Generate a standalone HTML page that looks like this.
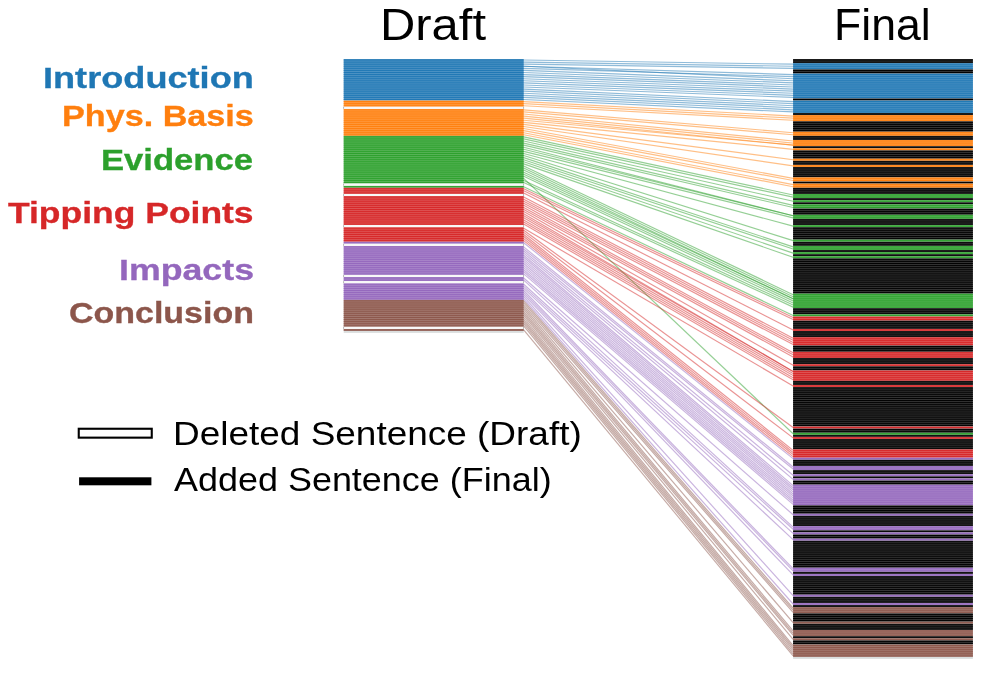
<!DOCTYPE html><html><head><meta charset="utf-8"><style>
html,body{margin:0;padding:0;background:#fff}
#c{position:relative;width:996px;height:686px;overflow:hidden;background:#fff;font-family:"Liberation Sans",sans-serif}
.t{position:absolute;white-space:nowrap;line-height:1;transform-origin:0 0;will-change:transform}
</style></head><body><div id="c">
<svg width="996" height="686" viewBox="0 0 996 686" style="position:absolute;left:0;top:0">
<g fill="none" stroke-width="1.15" stroke-opacity="0.5">
<path d="M523.7 60.04L793.1 64.19" stroke="#1f77b4"/>
<path d="M523.7 62.11L793.1 66.27" stroke="#1f77b4"/>
<path d="M523.7 64.19L793.1 68.34" stroke="#1f77b4"/>
<path d="M523.7 66.27L793.1 74.57" stroke="#1f77b4"/>
<path d="M523.7 68.34L793.1 76.65" stroke="#1f77b4"/>
<path d="M523.7 70.42L793.1 80.80" stroke="#1f77b4"/>
<path d="M523.7 72.50L793.1 82.88" stroke="#1f77b4"/>
<path d="M523.7 74.57L793.1 84.95" stroke="#1f77b4"/>
<path d="M523.7 76.65L793.1 87.03" stroke="#1f77b4"/>
<path d="M523.7 78.72L793.1 89.10" stroke="#1f77b4"/>
<path d="M523.7 80.80L793.1 91.18" stroke="#1f77b4"/>
<path d="M523.7 82.88L793.1 93.26" stroke="#1f77b4"/>
<path d="M523.7 84.95L793.1 95.33" stroke="#1f77b4"/>
<path d="M523.7 87.03L793.1 97.41" stroke="#1f77b4"/>
<path d="M523.7 89.10L793.1 101.56" stroke="#1f77b4"/>
<path d="M523.7 91.18L793.1 103.64" stroke="#1f77b4"/>
<path d="M523.7 93.26L793.1 105.71" stroke="#1f77b4"/>
<path d="M523.7 95.33L793.1 107.79" stroke="#1f77b4"/>
<path d="M523.7 97.41L793.1 109.87" stroke="#1f77b4"/>
<path d="M523.7 99.49L793.1 111.94" stroke="#1f77b4"/>
<path d="M523.7 66.27L793.1 78.72" stroke="#1f77b4"/>
<path d="M523.7 101.56L793.1 116.10" stroke="#ff7f0e"/>
<path d="M523.7 103.64L793.1 118.17" stroke="#ff7f0e"/>
<path d="M523.7 105.71L793.1 120.25" stroke="#ff7f0e"/>
<path d="M523.7 109.87L793.1 132.71" stroke="#ff7f0e"/>
<path d="M523.7 111.94L793.1 134.78" stroke="#ff7f0e"/>
<path d="M523.7 114.02L793.1 141.01" stroke="#ff7f0e"/>
<path d="M523.7 116.10L793.1 143.09" stroke="#ff7f0e"/>
<path d="M523.7 118.17L793.1 145.16" stroke="#ff7f0e"/>
<path d="M523.7 120.25L793.1 145.16" stroke="#ff7f0e"/>
<path d="M523.7 122.32L793.1 149.31" stroke="#ff7f0e"/>
<path d="M523.7 124.40L793.1 159.70" stroke="#ff7f0e"/>
<path d="M523.7 126.48L793.1 165.92" stroke="#ff7f0e"/>
<path d="M523.7 128.55L793.1 178.38" stroke="#ff7f0e"/>
<path d="M523.7 130.63L793.1 180.46" stroke="#ff7f0e"/>
<path d="M523.7 132.71L793.1 184.61" stroke="#ff7f0e"/>
<path d="M523.7 134.78L793.1 186.69" stroke="#ff7f0e"/>
<path d="M523.7 178.38L793.1 433.75" stroke="#2ca02c"/>
<path d="M523.7 136.86L793.1 194.99" stroke="#2ca02c"/>
<path d="M523.7 138.93L793.1 197.07" stroke="#2ca02c"/>
<path d="M523.7 141.01L793.1 201.22" stroke="#2ca02c"/>
<path d="M523.7 143.09L793.1 205.37" stroke="#2ca02c"/>
<path d="M523.7 145.16L793.1 207.45" stroke="#2ca02c"/>
<path d="M523.7 147.24L793.1 215.75" stroke="#2ca02c"/>
<path d="M523.7 149.31L793.1 215.75" stroke="#2ca02c"/>
<path d="M523.7 151.39L793.1 217.83" stroke="#2ca02c"/>
<path d="M523.7 153.47L793.1 226.13" stroke="#2ca02c"/>
<path d="M523.7 155.54L793.1 240.67" stroke="#2ca02c"/>
<path d="M523.7 157.62L793.1 246.90" stroke="#2ca02c"/>
<path d="M523.7 159.70L793.1 248.97" stroke="#2ca02c"/>
<path d="M523.7 161.77L793.1 253.12" stroke="#2ca02c"/>
<path d="M523.7 163.85L793.1 257.28" stroke="#2ca02c"/>
<path d="M523.7 165.92L793.1 294.65" stroke="#2ca02c"/>
<path d="M523.7 168.00L793.1 296.72" stroke="#2ca02c"/>
<path d="M523.7 170.08L793.1 298.80" stroke="#2ca02c"/>
<path d="M523.7 172.15L793.1 298.80" stroke="#2ca02c"/>
<path d="M523.7 174.23L793.1 300.88" stroke="#2ca02c"/>
<path d="M523.7 176.31L793.1 302.95" stroke="#2ca02c"/>
<path d="M523.7 180.46L793.1 305.03" stroke="#2ca02c"/>
<path d="M523.7 182.53L793.1 307.11" stroke="#2ca02c"/>
<path d="M523.7 186.69L793.1 315.41" stroke="#2ca02c"/>
<path d="M523.7 188.76L793.1 317.49" stroke="#d62728"/>
<path d="M523.7 190.84L793.1 319.56" stroke="#d62728"/>
<path d="M523.7 192.91L793.1 329.94" stroke="#d62728"/>
<path d="M523.7 197.07L793.1 338.25" stroke="#d62728"/>
<path d="M523.7 199.14L793.1 340.33" stroke="#d62728"/>
<path d="M523.7 201.22L793.1 342.40" stroke="#d62728"/>
<path d="M523.7 203.30L793.1 344.48" stroke="#d62728"/>
<path d="M523.7 205.37L793.1 352.78" stroke="#d62728"/>
<path d="M523.7 207.45L793.1 354.86" stroke="#d62728"/>
<path d="M523.7 209.52L793.1 356.93" stroke="#d62728"/>
<path d="M523.7 211.60L793.1 365.24" stroke="#d62728"/>
<path d="M523.7 213.68L793.1 371.47" stroke="#d62728"/>
<path d="M523.7 215.75L793.1 371.47" stroke="#d62728"/>
<path d="M523.7 217.83L793.1 373.54" stroke="#d62728"/>
<path d="M523.7 219.91L793.1 375.62" stroke="#d62728"/>
<path d="M523.7 221.98L793.1 377.70" stroke="#d62728"/>
<path d="M523.7 224.06L793.1 379.77" stroke="#d62728"/>
<path d="M523.7 228.21L793.1 386.00" stroke="#d62728"/>
<path d="M523.7 230.29L793.1 427.53" stroke="#d62728"/>
<path d="M523.7 232.36L793.1 437.91" stroke="#d62728"/>
<path d="M523.7 234.44L793.1 450.36" stroke="#d62728"/>
<path d="M523.7 236.52L793.1 452.44" stroke="#d62728"/>
<path d="M523.7 238.59L793.1 454.52" stroke="#d62728"/>
<path d="M523.7 240.67L793.1 456.59" stroke="#d62728"/>
<path d="M523.7 242.74L793.1 458.67" stroke="#9467bd"/>
<path d="M523.7 246.90L793.1 466.97" stroke="#9467bd"/>
<path d="M523.7 248.97L793.1 469.05" stroke="#9467bd"/>
<path d="M523.7 251.05L793.1 475.28" stroke="#9467bd"/>
<path d="M523.7 253.12L793.1 479.43" stroke="#9467bd"/>
<path d="M523.7 255.20L793.1 485.66" stroke="#9467bd"/>
<path d="M523.7 257.28L793.1 487.74" stroke="#9467bd"/>
<path d="M523.7 259.35L793.1 489.81" stroke="#9467bd"/>
<path d="M523.7 261.43L793.1 491.89" stroke="#9467bd"/>
<path d="M523.7 263.51L793.1 493.96" stroke="#9467bd"/>
<path d="M523.7 265.58L793.1 496.04" stroke="#9467bd"/>
<path d="M523.7 267.66L793.1 498.12" stroke="#9467bd"/>
<path d="M523.7 269.73L793.1 500.19" stroke="#9467bd"/>
<path d="M523.7 271.81L793.1 502.27" stroke="#9467bd"/>
<path d="M523.7 273.89L793.1 504.34" stroke="#9467bd"/>
<path d="M523.7 278.04L793.1 514.73" stroke="#9467bd"/>
<path d="M523.7 280.12L793.1 527.18" stroke="#9467bd"/>
<path d="M523.7 284.27L793.1 529.26" stroke="#9467bd"/>
<path d="M523.7 286.34L793.1 533.41" stroke="#9467bd"/>
<path d="M523.7 288.42L793.1 539.64" stroke="#9467bd"/>
<path d="M523.7 290.50L793.1 568.71" stroke="#9467bd"/>
<path d="M523.7 292.57L793.1 570.78" stroke="#9467bd"/>
<path d="M523.7 294.65L793.1 574.94" stroke="#9467bd"/>
<path d="M523.7 296.72L793.1 595.70" stroke="#9467bd"/>
<path d="M523.7 298.80L793.1 604.00" stroke="#9467bd"/>
<path d="M523.7 300.88L793.1 608.15" stroke="#8c564b"/>
<path d="M523.7 302.95L793.1 610.23" stroke="#8c564b"/>
<path d="M523.7 305.03L793.1 612.31" stroke="#8c564b"/>
<path d="M523.7 307.11L793.1 622.69" stroke="#8c564b"/>
<path d="M523.7 309.18L793.1 630.99" stroke="#8c564b"/>
<path d="M523.7 311.26L793.1 633.07" stroke="#8c564b"/>
<path d="M523.7 313.33L793.1 635.15" stroke="#8c564b"/>
<path d="M523.7 315.41L793.1 639.30" stroke="#8c564b"/>
<path d="M523.7 317.49L793.1 645.53" stroke="#8c564b"/>
<path d="M523.7 319.56L793.1 647.60" stroke="#8c564b"/>
<path d="M523.7 321.64L793.1 649.68" stroke="#8c564b"/>
<path d="M523.7 323.72L793.1 651.76" stroke="#8c564b"/>
<path d="M523.7 325.79L793.1 653.83" stroke="#8c564b"/>
<path d="M523.7 329.94L793.1 655.91" stroke="#8c564b"/>
</g>
<rect x="343.7" y="59.00" width="180.0" height="41.52" fill="#1f77b4" fill-opacity="0.8"/>
<rect x="343.7" y="100.52" width="180.0" height="6.23" fill="#ff7f0e" fill-opacity="0.8"/>
<rect x="343.7" y="108.83" width="180.0" height="26.99" fill="#ff7f0e" fill-opacity="0.8"/>
<rect x="343.7" y="135.82" width="180.0" height="47.75" fill="#2ca02c" fill-opacity="0.8"/>
<rect x="343.7" y="185.65" width="180.0" height="2.08" fill="#2ca02c" fill-opacity="0.8"/>
<rect x="343.7" y="187.72" width="180.0" height="6.23" fill="#d62728" fill-opacity="0.8"/>
<rect x="343.7" y="196.03" width="180.0" height="29.07" fill="#d62728" fill-opacity="0.8"/>
<rect x="343.7" y="227.17" width="180.0" height="14.53" fill="#d62728" fill-opacity="0.8"/>
<rect x="343.7" y="241.71" width="180.0" height="2.08" fill="#9467bd" fill-opacity="0.8"/>
<rect x="343.7" y="245.86" width="180.0" height="29.07" fill="#9467bd" fill-opacity="0.8"/>
<rect x="343.7" y="277.00" width="180.0" height="4.15" fill="#9467bd" fill-opacity="0.8"/>
<rect x="343.7" y="283.23" width="180.0" height="16.61" fill="#9467bd" fill-opacity="0.8"/>
<rect x="343.7" y="299.84" width="180.0" height="26.99" fill="#8c564b" fill-opacity="0.8"/>
<rect x="343.7" y="328.91" width="180.0" height="2.08" fill="#8c564b" fill-opacity="0.8"/>
<rect x="343.7" y="59.52" width="180.0" height="1.038" fill="#1f77b4" fill-opacity="0.95"/>
<rect x="343.7" y="61.60" width="180.0" height="1.038" fill="#1f77b4" fill-opacity="0.95"/>
<rect x="343.7" y="63.67" width="180.0" height="1.038" fill="#1f77b4" fill-opacity="0.95"/>
<rect x="343.7" y="65.75" width="180.0" height="1.038" fill="#1f77b4" fill-opacity="0.95"/>
<rect x="343.7" y="67.82" width="180.0" height="1.038" fill="#1f77b4" fill-opacity="0.95"/>
<rect x="343.7" y="69.90" width="180.0" height="1.038" fill="#1f77b4" fill-opacity="0.95"/>
<rect x="343.7" y="71.98" width="180.0" height="1.038" fill="#1f77b4" fill-opacity="0.95"/>
<rect x="343.7" y="74.05" width="180.0" height="1.038" fill="#1f77b4" fill-opacity="0.95"/>
<rect x="343.7" y="76.13" width="180.0" height="1.038" fill="#1f77b4" fill-opacity="0.95"/>
<rect x="343.7" y="78.20" width="180.0" height="1.038" fill="#1f77b4" fill-opacity="0.95"/>
<rect x="343.7" y="80.28" width="180.0" height="1.038" fill="#1f77b4" fill-opacity="0.95"/>
<rect x="343.7" y="82.36" width="180.0" height="1.038" fill="#1f77b4" fill-opacity="0.95"/>
<rect x="343.7" y="84.43" width="180.0" height="1.038" fill="#1f77b4" fill-opacity="0.95"/>
<rect x="343.7" y="86.51" width="180.0" height="1.038" fill="#1f77b4" fill-opacity="0.95"/>
<rect x="343.7" y="88.59" width="180.0" height="1.038" fill="#1f77b4" fill-opacity="0.95"/>
<rect x="343.7" y="90.66" width="180.0" height="1.038" fill="#1f77b4" fill-opacity="0.95"/>
<rect x="343.7" y="92.74" width="180.0" height="1.038" fill="#1f77b4" fill-opacity="0.95"/>
<rect x="343.7" y="94.81" width="180.0" height="1.038" fill="#1f77b4" fill-opacity="0.95"/>
<rect x="343.7" y="96.89" width="180.0" height="1.038" fill="#1f77b4" fill-opacity="0.95"/>
<rect x="343.7" y="98.97" width="180.0" height="1.038" fill="#1f77b4" fill-opacity="0.95"/>
<rect x="343.7" y="101.04" width="180.0" height="1.038" fill="#ff7f0e" fill-opacity="0.95"/>
<rect x="343.7" y="103.12" width="180.0" height="1.038" fill="#ff7f0e" fill-opacity="0.95"/>
<rect x="343.7" y="105.20" width="180.0" height="1.038" fill="#ff7f0e" fill-opacity="0.95"/>
<rect x="343.7" y="106.75" width="180.0" height="2.0762" fill="#f8f8f8"/>
<rect x="343.35" y="106.75" width="0.7" height="2.0762" fill="#999"/>
<rect x="523.35" y="106.75" width="0.7" height="2.0762" fill="#999"/>
<rect x="343.7" y="109.35" width="180.0" height="1.038" fill="#ff7f0e" fill-opacity="0.95"/>
<rect x="343.7" y="111.42" width="180.0" height="1.038" fill="#ff7f0e" fill-opacity="0.95"/>
<rect x="343.7" y="113.50" width="180.0" height="1.038" fill="#ff7f0e" fill-opacity="0.95"/>
<rect x="343.7" y="115.58" width="180.0" height="1.038" fill="#ff7f0e" fill-opacity="0.95"/>
<rect x="343.7" y="117.65" width="180.0" height="1.038" fill="#ff7f0e" fill-opacity="0.95"/>
<rect x="343.7" y="119.73" width="180.0" height="1.038" fill="#ff7f0e" fill-opacity="0.95"/>
<rect x="343.7" y="121.81" width="180.0" height="1.038" fill="#ff7f0e" fill-opacity="0.95"/>
<rect x="343.7" y="123.88" width="180.0" height="1.038" fill="#ff7f0e" fill-opacity="0.95"/>
<rect x="343.7" y="125.96" width="180.0" height="1.038" fill="#ff7f0e" fill-opacity="0.95"/>
<rect x="343.7" y="128.03" width="180.0" height="1.038" fill="#ff7f0e" fill-opacity="0.95"/>
<rect x="343.7" y="130.11" width="180.0" height="1.038" fill="#ff7f0e" fill-opacity="0.95"/>
<rect x="343.7" y="132.19" width="180.0" height="1.038" fill="#ff7f0e" fill-opacity="0.95"/>
<rect x="343.7" y="134.26" width="180.0" height="1.038" fill="#ff7f0e" fill-opacity="0.95"/>
<rect x="343.7" y="136.34" width="180.0" height="1.038" fill="#2ca02c" fill-opacity="0.95"/>
<rect x="343.7" y="138.41" width="180.0" height="1.038" fill="#2ca02c" fill-opacity="0.95"/>
<rect x="343.7" y="140.49" width="180.0" height="1.038" fill="#2ca02c" fill-opacity="0.95"/>
<rect x="343.7" y="142.57" width="180.0" height="1.038" fill="#2ca02c" fill-opacity="0.95"/>
<rect x="343.7" y="144.64" width="180.0" height="1.038" fill="#2ca02c" fill-opacity="0.95"/>
<rect x="343.7" y="146.72" width="180.0" height="1.038" fill="#2ca02c" fill-opacity="0.95"/>
<rect x="343.7" y="148.80" width="180.0" height="1.038" fill="#2ca02c" fill-opacity="0.95"/>
<rect x="343.7" y="150.87" width="180.0" height="1.038" fill="#2ca02c" fill-opacity="0.95"/>
<rect x="343.7" y="152.95" width="180.0" height="1.038" fill="#2ca02c" fill-opacity="0.95"/>
<rect x="343.7" y="155.02" width="180.0" height="1.038" fill="#2ca02c" fill-opacity="0.95"/>
<rect x="343.7" y="157.10" width="180.0" height="1.038" fill="#2ca02c" fill-opacity="0.95"/>
<rect x="343.7" y="159.18" width="180.0" height="1.038" fill="#2ca02c" fill-opacity="0.95"/>
<rect x="343.7" y="161.25" width="180.0" height="1.038" fill="#2ca02c" fill-opacity="0.95"/>
<rect x="343.7" y="163.33" width="180.0" height="1.038" fill="#2ca02c" fill-opacity="0.95"/>
<rect x="343.7" y="165.41" width="180.0" height="1.038" fill="#2ca02c" fill-opacity="0.95"/>
<rect x="343.7" y="167.48" width="180.0" height="1.038" fill="#2ca02c" fill-opacity="0.95"/>
<rect x="343.7" y="169.56" width="180.0" height="1.038" fill="#2ca02c" fill-opacity="0.95"/>
<rect x="343.7" y="171.63" width="180.0" height="1.038" fill="#2ca02c" fill-opacity="0.95"/>
<rect x="343.7" y="173.71" width="180.0" height="1.038" fill="#2ca02c" fill-opacity="0.95"/>
<rect x="343.7" y="175.79" width="180.0" height="1.038" fill="#2ca02c" fill-opacity="0.95"/>
<rect x="343.7" y="177.86" width="180.0" height="1.038" fill="#2ca02c" fill-opacity="0.95"/>
<rect x="343.7" y="179.94" width="180.0" height="1.038" fill="#2ca02c" fill-opacity="0.95"/>
<rect x="343.7" y="182.01" width="180.0" height="1.038" fill="#2ca02c" fill-opacity="0.95"/>
<rect x="343.7" y="183.57" width="180.0" height="2.0762" fill="#f8f8f8"/>
<rect x="343.35" y="183.57" width="0.7" height="2.0762" fill="#999"/>
<rect x="523.35" y="183.57" width="0.7" height="2.0762" fill="#999"/>
<rect x="343.7" y="186.17" width="180.0" height="1.038" fill="#2ca02c" fill-opacity="0.95"/>
<rect x="343.7" y="188.24" width="180.0" height="1.038" fill="#d62728" fill-opacity="0.95"/>
<rect x="343.7" y="190.32" width="180.0" height="1.038" fill="#d62728" fill-opacity="0.95"/>
<rect x="343.7" y="192.40" width="180.0" height="1.038" fill="#d62728" fill-opacity="0.95"/>
<rect x="343.7" y="193.95" width="180.0" height="2.0762" fill="#f8f8f8"/>
<rect x="343.35" y="193.95" width="0.7" height="2.0762" fill="#999"/>
<rect x="523.35" y="193.95" width="0.7" height="2.0762" fill="#999"/>
<rect x="343.7" y="196.55" width="180.0" height="1.038" fill="#d62728" fill-opacity="0.95"/>
<rect x="343.7" y="198.62" width="180.0" height="1.038" fill="#d62728" fill-opacity="0.95"/>
<rect x="343.7" y="200.70" width="180.0" height="1.038" fill="#d62728" fill-opacity="0.95"/>
<rect x="343.7" y="202.78" width="180.0" height="1.038" fill="#d62728" fill-opacity="0.95"/>
<rect x="343.7" y="204.85" width="180.0" height="1.038" fill="#d62728" fill-opacity="0.95"/>
<rect x="343.7" y="206.93" width="180.0" height="1.038" fill="#d62728" fill-opacity="0.95"/>
<rect x="343.7" y="209.01" width="180.0" height="1.038" fill="#d62728" fill-opacity="0.95"/>
<rect x="343.7" y="211.08" width="180.0" height="1.038" fill="#d62728" fill-opacity="0.95"/>
<rect x="343.7" y="213.16" width="180.0" height="1.038" fill="#d62728" fill-opacity="0.95"/>
<rect x="343.7" y="215.23" width="180.0" height="1.038" fill="#d62728" fill-opacity="0.95"/>
<rect x="343.7" y="217.31" width="180.0" height="1.038" fill="#d62728" fill-opacity="0.95"/>
<rect x="343.7" y="219.39" width="180.0" height="1.038" fill="#d62728" fill-opacity="0.95"/>
<rect x="343.7" y="221.46" width="180.0" height="1.038" fill="#d62728" fill-opacity="0.95"/>
<rect x="343.7" y="223.54" width="180.0" height="1.038" fill="#d62728" fill-opacity="0.95"/>
<rect x="343.7" y="225.10" width="180.0" height="2.0762" fill="#f8f8f8"/>
<rect x="343.35" y="225.10" width="0.7" height="2.0762" fill="#999"/>
<rect x="523.35" y="225.10" width="0.7" height="2.0762" fill="#999"/>
<rect x="343.7" y="227.69" width="180.0" height="1.038" fill="#d62728" fill-opacity="0.95"/>
<rect x="343.7" y="229.77" width="180.0" height="1.038" fill="#d62728" fill-opacity="0.95"/>
<rect x="343.7" y="231.84" width="180.0" height="1.038" fill="#d62728" fill-opacity="0.95"/>
<rect x="343.7" y="233.92" width="180.0" height="1.038" fill="#d62728" fill-opacity="0.95"/>
<rect x="343.7" y="236.00" width="180.0" height="1.038" fill="#d62728" fill-opacity="0.95"/>
<rect x="343.7" y="238.07" width="180.0" height="1.038" fill="#d62728" fill-opacity="0.95"/>
<rect x="343.7" y="240.15" width="180.0" height="1.038" fill="#d62728" fill-opacity="0.95"/>
<rect x="343.7" y="242.22" width="180.0" height="1.038" fill="#9467bd" fill-opacity="0.95"/>
<rect x="343.7" y="243.78" width="180.0" height="2.0762" fill="#f8f8f8"/>
<rect x="343.35" y="243.78" width="0.7" height="2.0762" fill="#999"/>
<rect x="523.35" y="243.78" width="0.7" height="2.0762" fill="#999"/>
<rect x="343.7" y="246.38" width="180.0" height="1.038" fill="#9467bd" fill-opacity="0.95"/>
<rect x="343.7" y="248.45" width="180.0" height="1.038" fill="#9467bd" fill-opacity="0.95"/>
<rect x="343.7" y="250.53" width="180.0" height="1.038" fill="#9467bd" fill-opacity="0.95"/>
<rect x="343.7" y="252.61" width="180.0" height="1.038" fill="#9467bd" fill-opacity="0.95"/>
<rect x="343.7" y="254.68" width="180.0" height="1.038" fill="#9467bd" fill-opacity="0.95"/>
<rect x="343.7" y="256.76" width="180.0" height="1.038" fill="#9467bd" fill-opacity="0.95"/>
<rect x="343.7" y="258.83" width="180.0" height="1.038" fill="#9467bd" fill-opacity="0.95"/>
<rect x="343.7" y="260.91" width="180.0" height="1.038" fill="#9467bd" fill-opacity="0.95"/>
<rect x="343.7" y="262.99" width="180.0" height="1.038" fill="#9467bd" fill-opacity="0.95"/>
<rect x="343.7" y="265.06" width="180.0" height="1.038" fill="#9467bd" fill-opacity="0.95"/>
<rect x="343.7" y="267.14" width="180.0" height="1.038" fill="#9467bd" fill-opacity="0.95"/>
<rect x="343.7" y="269.22" width="180.0" height="1.038" fill="#9467bd" fill-opacity="0.95"/>
<rect x="343.7" y="271.29" width="180.0" height="1.038" fill="#9467bd" fill-opacity="0.95"/>
<rect x="343.7" y="273.37" width="180.0" height="1.038" fill="#9467bd" fill-opacity="0.95"/>
<rect x="343.7" y="274.92" width="180.0" height="2.0762" fill="#f8f8f8"/>
<rect x="343.35" y="274.92" width="0.7" height="2.0762" fill="#999"/>
<rect x="523.35" y="274.92" width="0.7" height="2.0762" fill="#999"/>
<rect x="343.7" y="277.52" width="180.0" height="1.038" fill="#9467bd" fill-opacity="0.95"/>
<rect x="343.7" y="279.60" width="180.0" height="1.038" fill="#9467bd" fill-opacity="0.95"/>
<rect x="343.7" y="281.15" width="180.0" height="2.0762" fill="#f8f8f8"/>
<rect x="343.35" y="281.15" width="0.7" height="2.0762" fill="#999"/>
<rect x="523.35" y="281.15" width="0.7" height="2.0762" fill="#999"/>
<rect x="343.7" y="283.75" width="180.0" height="1.038" fill="#9467bd" fill-opacity="0.95"/>
<rect x="343.7" y="285.82" width="180.0" height="1.038" fill="#9467bd" fill-opacity="0.95"/>
<rect x="343.7" y="287.90" width="180.0" height="1.038" fill="#9467bd" fill-opacity="0.95"/>
<rect x="343.7" y="289.98" width="180.0" height="1.038" fill="#9467bd" fill-opacity="0.95"/>
<rect x="343.7" y="292.05" width="180.0" height="1.038" fill="#9467bd" fill-opacity="0.95"/>
<rect x="343.7" y="294.13" width="180.0" height="1.038" fill="#9467bd" fill-opacity="0.95"/>
<rect x="343.7" y="296.21" width="180.0" height="1.038" fill="#9467bd" fill-opacity="0.95"/>
<rect x="343.7" y="298.28" width="180.0" height="1.038" fill="#9467bd" fill-opacity="0.95"/>
<rect x="343.7" y="300.36" width="180.0" height="1.038" fill="#8c564b" fill-opacity="0.95"/>
<rect x="343.7" y="302.43" width="180.0" height="1.038" fill="#8c564b" fill-opacity="0.95"/>
<rect x="343.7" y="304.51" width="180.0" height="1.038" fill="#8c564b" fill-opacity="0.95"/>
<rect x="343.7" y="306.59" width="180.0" height="1.038" fill="#8c564b" fill-opacity="0.95"/>
<rect x="343.7" y="308.66" width="180.0" height="1.038" fill="#8c564b" fill-opacity="0.95"/>
<rect x="343.7" y="310.74" width="180.0" height="1.038" fill="#8c564b" fill-opacity="0.95"/>
<rect x="343.7" y="312.82" width="180.0" height="1.038" fill="#8c564b" fill-opacity="0.95"/>
<rect x="343.7" y="314.89" width="180.0" height="1.038" fill="#8c564b" fill-opacity="0.95"/>
<rect x="343.7" y="316.97" width="180.0" height="1.038" fill="#8c564b" fill-opacity="0.95"/>
<rect x="343.7" y="319.04" width="180.0" height="1.038" fill="#8c564b" fill-opacity="0.95"/>
<rect x="343.7" y="321.12" width="180.0" height="1.038" fill="#8c564b" fill-opacity="0.95"/>
<rect x="343.7" y="323.20" width="180.0" height="1.038" fill="#8c564b" fill-opacity="0.95"/>
<rect x="343.7" y="325.27" width="180.0" height="1.038" fill="#8c564b" fill-opacity="0.95"/>
<rect x="343.7" y="326.83" width="180.0" height="2.0762" fill="#f8f8f8"/>
<rect x="343.35" y="326.83" width="0.7" height="2.0762" fill="#999"/>
<rect x="523.35" y="326.83" width="0.7" height="2.0762" fill="#999"/>
<rect x="343.7" y="329.43" width="180.0" height="1.038" fill="#8c564b" fill-opacity="0.95"/>
<rect x="793.1" y="59.00" width="179.8" height="4.15" fill="#000000" fill-opacity="0.8"/>
<rect x="793.1" y="63.15" width="179.8" height="6.23" fill="#1f77b4" fill-opacity="0.8"/>
<rect x="793.1" y="69.38" width="179.8" height="4.15" fill="#000000" fill-opacity="0.8"/>
<rect x="793.1" y="73.53" width="179.8" height="24.91" fill="#1f77b4" fill-opacity="0.8"/>
<rect x="793.1" y="98.45" width="179.8" height="2.08" fill="#000000" fill-opacity="0.8"/>
<rect x="793.1" y="100.52" width="179.8" height="12.46" fill="#1f77b4" fill-opacity="0.8"/>
<rect x="793.1" y="112.98" width="179.8" height="2.08" fill="#000000" fill-opacity="0.8"/>
<rect x="793.1" y="115.06" width="179.8" height="6.23" fill="#ff7f0e" fill-opacity="0.8"/>
<rect x="793.1" y="121.29" width="179.8" height="10.38" fill="#000000" fill-opacity="0.8"/>
<rect x="793.1" y="131.67" width="179.8" height="4.15" fill="#ff7f0e" fill-opacity="0.8"/>
<rect x="793.1" y="135.82" width="179.8" height="4.15" fill="#000000" fill-opacity="0.8"/>
<rect x="793.1" y="139.97" width="179.8" height="6.23" fill="#ff7f0e" fill-opacity="0.8"/>
<rect x="793.1" y="146.20" width="179.8" height="2.08" fill="#000000" fill-opacity="0.8"/>
<rect x="793.1" y="148.28" width="179.8" height="2.08" fill="#ff7f0e" fill-opacity="0.8"/>
<rect x="793.1" y="150.35" width="179.8" height="8.30" fill="#000000" fill-opacity="0.8"/>
<rect x="793.1" y="158.66" width="179.8" height="2.08" fill="#ff7f0e" fill-opacity="0.8"/>
<rect x="793.1" y="160.73" width="179.8" height="4.15" fill="#000000" fill-opacity="0.8"/>
<rect x="793.1" y="164.89" width="179.8" height="2.08" fill="#ff7f0e" fill-opacity="0.8"/>
<rect x="793.1" y="166.96" width="179.8" height="10.38" fill="#000000" fill-opacity="0.8"/>
<rect x="793.1" y="177.34" width="179.8" height="4.15" fill="#ff7f0e" fill-opacity="0.8"/>
<rect x="793.1" y="181.50" width="179.8" height="2.08" fill="#000000" fill-opacity="0.8"/>
<rect x="793.1" y="183.57" width="179.8" height="4.15" fill="#ff7f0e" fill-opacity="0.8"/>
<rect x="793.1" y="187.72" width="179.8" height="6.23" fill="#000000" fill-opacity="0.8"/>
<rect x="793.1" y="193.95" width="179.8" height="4.15" fill="#2ca02c" fill-opacity="0.8"/>
<rect x="793.1" y="198.11" width="179.8" height="2.08" fill="#000000" fill-opacity="0.8"/>
<rect x="793.1" y="200.18" width="179.8" height="2.08" fill="#2ca02c" fill-opacity="0.8"/>
<rect x="793.1" y="202.26" width="179.8" height="2.08" fill="#000000" fill-opacity="0.8"/>
<rect x="793.1" y="204.33" width="179.8" height="4.15" fill="#2ca02c" fill-opacity="0.8"/>
<rect x="793.1" y="208.49" width="179.8" height="6.23" fill="#000000" fill-opacity="0.8"/>
<rect x="793.1" y="214.72" width="179.8" height="4.15" fill="#2ca02c" fill-opacity="0.8"/>
<rect x="793.1" y="218.87" width="179.8" height="6.23" fill="#000000" fill-opacity="0.8"/>
<rect x="793.1" y="225.10" width="179.8" height="2.08" fill="#2ca02c" fill-opacity="0.8"/>
<rect x="793.1" y="227.17" width="179.8" height="12.46" fill="#000000" fill-opacity="0.8"/>
<rect x="793.1" y="239.63" width="179.8" height="2.08" fill="#2ca02c" fill-opacity="0.8"/>
<rect x="793.1" y="241.71" width="179.8" height="4.15" fill="#000000" fill-opacity="0.8"/>
<rect x="793.1" y="245.86" width="179.8" height="4.15" fill="#2ca02c" fill-opacity="0.8"/>
<rect x="793.1" y="250.01" width="179.8" height="2.08" fill="#000000" fill-opacity="0.8"/>
<rect x="793.1" y="252.09" width="179.8" height="2.08" fill="#2ca02c" fill-opacity="0.8"/>
<rect x="793.1" y="254.16" width="179.8" height="2.08" fill="#000000" fill-opacity="0.8"/>
<rect x="793.1" y="256.24" width="179.8" height="2.08" fill="#2ca02c" fill-opacity="0.8"/>
<rect x="793.1" y="258.32" width="179.8" height="35.30" fill="#000000" fill-opacity="0.8"/>
<rect x="793.1" y="293.61" width="179.8" height="14.53" fill="#2ca02c" fill-opacity="0.8"/>
<rect x="793.1" y="308.14" width="179.8" height="6.23" fill="#000000" fill-opacity="0.8"/>
<rect x="793.1" y="314.37" width="179.8" height="2.08" fill="#2ca02c" fill-opacity="0.8"/>
<rect x="793.1" y="316.45" width="179.8" height="4.15" fill="#d62728" fill-opacity="0.8"/>
<rect x="793.1" y="320.60" width="179.8" height="8.30" fill="#000000" fill-opacity="0.8"/>
<rect x="793.1" y="328.91" width="179.8" height="2.08" fill="#d62728" fill-opacity="0.8"/>
<rect x="793.1" y="330.98" width="179.8" height="6.23" fill="#000000" fill-opacity="0.8"/>
<rect x="793.1" y="337.21" width="179.8" height="8.30" fill="#d62728" fill-opacity="0.8"/>
<rect x="793.1" y="345.52" width="179.8" height="6.23" fill="#000000" fill-opacity="0.8"/>
<rect x="793.1" y="351.74" width="179.8" height="6.23" fill="#d62728" fill-opacity="0.8"/>
<rect x="793.1" y="357.97" width="179.8" height="6.23" fill="#000000" fill-opacity="0.8"/>
<rect x="793.1" y="364.20" width="179.8" height="2.08" fill="#d62728" fill-opacity="0.8"/>
<rect x="793.1" y="366.28" width="179.8" height="4.15" fill="#000000" fill-opacity="0.8"/>
<rect x="793.1" y="370.43" width="179.8" height="10.38" fill="#d62728" fill-opacity="0.8"/>
<rect x="793.1" y="380.81" width="179.8" height="4.15" fill="#000000" fill-opacity="0.8"/>
<rect x="793.1" y="384.96" width="179.8" height="2.08" fill="#d62728" fill-opacity="0.8"/>
<rect x="793.1" y="387.04" width="179.8" height="39.45" fill="#000000" fill-opacity="0.8"/>
<rect x="793.1" y="426.49" width="179.8" height="2.08" fill="#d62728" fill-opacity="0.8"/>
<rect x="793.1" y="428.56" width="179.8" height="4.15" fill="#000000" fill-opacity="0.8"/>
<rect x="793.1" y="432.72" width="179.8" height="2.08" fill="#2ca02c" fill-opacity="0.8"/>
<rect x="793.1" y="434.79" width="179.8" height="2.08" fill="#000000" fill-opacity="0.8"/>
<rect x="793.1" y="436.87" width="179.8" height="2.08" fill="#d62728" fill-opacity="0.8"/>
<rect x="793.1" y="438.94" width="179.8" height="10.38" fill="#000000" fill-opacity="0.8"/>
<rect x="793.1" y="449.33" width="179.8" height="8.30" fill="#d62728" fill-opacity="0.8"/>
<rect x="793.1" y="457.63" width="179.8" height="2.08" fill="#9467bd" fill-opacity="0.8"/>
<rect x="793.1" y="459.71" width="179.8" height="6.23" fill="#000000" fill-opacity="0.8"/>
<rect x="793.1" y="465.94" width="179.8" height="4.15" fill="#9467bd" fill-opacity="0.8"/>
<rect x="793.1" y="470.09" width="179.8" height="4.15" fill="#000000" fill-opacity="0.8"/>
<rect x="793.1" y="474.24" width="179.8" height="2.08" fill="#9467bd" fill-opacity="0.8"/>
<rect x="793.1" y="476.32" width="179.8" height="2.08" fill="#000000" fill-opacity="0.8"/>
<rect x="793.1" y="478.39" width="179.8" height="2.08" fill="#9467bd" fill-opacity="0.8"/>
<rect x="793.1" y="480.47" width="179.8" height="4.15" fill="#000000" fill-opacity="0.8"/>
<rect x="793.1" y="484.62" width="179.8" height="20.76" fill="#9467bd" fill-opacity="0.8"/>
<rect x="793.1" y="505.38" width="179.8" height="8.30" fill="#000000" fill-opacity="0.8"/>
<rect x="793.1" y="513.69" width="179.8" height="2.08" fill="#9467bd" fill-opacity="0.8"/>
<rect x="793.1" y="515.76" width="179.8" height="10.38" fill="#000000" fill-opacity="0.8"/>
<rect x="793.1" y="526.14" width="179.8" height="4.15" fill="#9467bd" fill-opacity="0.8"/>
<rect x="793.1" y="530.30" width="179.8" height="2.08" fill="#000000" fill-opacity="0.8"/>
<rect x="793.1" y="532.37" width="179.8" height="2.08" fill="#9467bd" fill-opacity="0.8"/>
<rect x="793.1" y="534.45" width="179.8" height="4.15" fill="#000000" fill-opacity="0.8"/>
<rect x="793.1" y="538.60" width="179.8" height="2.08" fill="#9467bd" fill-opacity="0.8"/>
<rect x="793.1" y="540.68" width="179.8" height="26.99" fill="#000000" fill-opacity="0.8"/>
<rect x="793.1" y="567.67" width="179.8" height="4.15" fill="#9467bd" fill-opacity="0.8"/>
<rect x="793.1" y="571.82" width="179.8" height="2.08" fill="#000000" fill-opacity="0.8"/>
<rect x="793.1" y="573.90" width="179.8" height="2.08" fill="#9467bd" fill-opacity="0.8"/>
<rect x="793.1" y="575.97" width="179.8" height="18.69" fill="#000000" fill-opacity="0.8"/>
<rect x="793.1" y="594.66" width="179.8" height="2.08" fill="#9467bd" fill-opacity="0.8"/>
<rect x="793.1" y="596.74" width="179.8" height="6.23" fill="#000000" fill-opacity="0.8"/>
<rect x="793.1" y="602.96" width="179.8" height="2.08" fill="#9467bd" fill-opacity="0.8"/>
<rect x="793.1" y="605.04" width="179.8" height="2.08" fill="#000000" fill-opacity="0.8"/>
<rect x="793.1" y="607.12" width="179.8" height="6.23" fill="#8c564b" fill-opacity="0.8"/>
<rect x="793.1" y="613.35" width="179.8" height="8.30" fill="#000000" fill-opacity="0.8"/>
<rect x="793.1" y="621.65" width="179.8" height="2.08" fill="#8c564b" fill-opacity="0.8"/>
<rect x="793.1" y="623.73" width="179.8" height="6.23" fill="#000000" fill-opacity="0.8"/>
<rect x="793.1" y="629.96" width="179.8" height="6.23" fill="#8c564b" fill-opacity="0.8"/>
<rect x="793.1" y="636.18" width="179.8" height="2.08" fill="#000000" fill-opacity="0.8"/>
<rect x="793.1" y="638.26" width="179.8" height="2.08" fill="#8c564b" fill-opacity="0.8"/>
<rect x="793.1" y="640.34" width="179.8" height="4.15" fill="#000000" fill-opacity="0.8"/>
<rect x="793.1" y="644.49" width="179.8" height="12.46" fill="#8c564b" fill-opacity="0.8"/>
<rect x="793.1" y="59.52" width="179.8" height="1.038" fill="#000000" fill-opacity="0.95"/>
<rect x="793.1" y="61.60" width="179.8" height="1.038" fill="#000000" fill-opacity="0.95"/>
<rect x="793.1" y="63.67" width="179.8" height="1.038" fill="#1f77b4" fill-opacity="0.95"/>
<rect x="793.1" y="65.75" width="179.8" height="1.038" fill="#1f77b4" fill-opacity="0.95"/>
<rect x="793.1" y="67.82" width="179.8" height="1.038" fill="#1f77b4" fill-opacity="0.95"/>
<rect x="793.1" y="69.90" width="179.8" height="1.038" fill="#000000" fill-opacity="0.95"/>
<rect x="793.1" y="71.98" width="179.8" height="1.038" fill="#000000" fill-opacity="0.95"/>
<rect x="793.1" y="74.05" width="179.8" height="1.038" fill="#1f77b4" fill-opacity="0.95"/>
<rect x="793.1" y="76.13" width="179.8" height="1.038" fill="#1f77b4" fill-opacity="0.95"/>
<rect x="793.1" y="78.20" width="179.8" height="1.038" fill="#1f77b4" fill-opacity="0.95"/>
<rect x="793.1" y="80.28" width="179.8" height="1.038" fill="#1f77b4" fill-opacity="0.95"/>
<rect x="793.1" y="82.36" width="179.8" height="1.038" fill="#1f77b4" fill-opacity="0.95"/>
<rect x="793.1" y="84.43" width="179.8" height="1.038" fill="#1f77b4" fill-opacity="0.95"/>
<rect x="793.1" y="86.51" width="179.8" height="1.038" fill="#1f77b4" fill-opacity="0.95"/>
<rect x="793.1" y="88.59" width="179.8" height="1.038" fill="#1f77b4" fill-opacity="0.95"/>
<rect x="793.1" y="90.66" width="179.8" height="1.038" fill="#1f77b4" fill-opacity="0.95"/>
<rect x="793.1" y="92.74" width="179.8" height="1.038" fill="#1f77b4" fill-opacity="0.95"/>
<rect x="793.1" y="94.81" width="179.8" height="1.038" fill="#1f77b4" fill-opacity="0.95"/>
<rect x="793.1" y="96.89" width="179.8" height="1.038" fill="#1f77b4" fill-opacity="0.95"/>
<rect x="793.1" y="98.97" width="179.8" height="1.038" fill="#000000" fill-opacity="0.95"/>
<rect x="793.1" y="101.04" width="179.8" height="1.038" fill="#1f77b4" fill-opacity="0.95"/>
<rect x="793.1" y="103.12" width="179.8" height="1.038" fill="#1f77b4" fill-opacity="0.95"/>
<rect x="793.1" y="105.20" width="179.8" height="1.038" fill="#1f77b4" fill-opacity="0.95"/>
<rect x="793.1" y="107.27" width="179.8" height="1.038" fill="#1f77b4" fill-opacity="0.95"/>
<rect x="793.1" y="109.35" width="179.8" height="1.038" fill="#1f77b4" fill-opacity="0.95"/>
<rect x="793.1" y="111.42" width="179.8" height="1.038" fill="#1f77b4" fill-opacity="0.95"/>
<rect x="793.1" y="113.50" width="179.8" height="1.038" fill="#000000" fill-opacity="0.95"/>
<rect x="793.1" y="115.58" width="179.8" height="1.038" fill="#ff7f0e" fill-opacity="0.95"/>
<rect x="793.1" y="117.65" width="179.8" height="1.038" fill="#ff7f0e" fill-opacity="0.95"/>
<rect x="793.1" y="119.73" width="179.8" height="1.038" fill="#ff7f0e" fill-opacity="0.95"/>
<rect x="793.1" y="121.81" width="179.8" height="1.038" fill="#000000" fill-opacity="0.95"/>
<rect x="793.1" y="123.88" width="179.8" height="1.038" fill="#000000" fill-opacity="0.95"/>
<rect x="793.1" y="125.96" width="179.8" height="1.038" fill="#000000" fill-opacity="0.95"/>
<rect x="793.1" y="128.03" width="179.8" height="1.038" fill="#000000" fill-opacity="0.95"/>
<rect x="793.1" y="130.11" width="179.8" height="1.038" fill="#000000" fill-opacity="0.95"/>
<rect x="793.1" y="132.19" width="179.8" height="1.038" fill="#ff7f0e" fill-opacity="0.95"/>
<rect x="793.1" y="134.26" width="179.8" height="1.038" fill="#ff7f0e" fill-opacity="0.95"/>
<rect x="793.1" y="136.34" width="179.8" height="1.038" fill="#000000" fill-opacity="0.95"/>
<rect x="793.1" y="138.41" width="179.8" height="1.038" fill="#000000" fill-opacity="0.95"/>
<rect x="793.1" y="140.49" width="179.8" height="1.038" fill="#ff7f0e" fill-opacity="0.95"/>
<rect x="793.1" y="142.57" width="179.8" height="1.038" fill="#ff7f0e" fill-opacity="0.95"/>
<rect x="793.1" y="144.64" width="179.8" height="1.038" fill="#ff7f0e" fill-opacity="0.95"/>
<rect x="793.1" y="146.72" width="179.8" height="1.038" fill="#000000" fill-opacity="0.95"/>
<rect x="793.1" y="148.80" width="179.8" height="1.038" fill="#ff7f0e" fill-opacity="0.95"/>
<rect x="793.1" y="150.87" width="179.8" height="1.038" fill="#000000" fill-opacity="0.95"/>
<rect x="793.1" y="152.95" width="179.8" height="1.038" fill="#000000" fill-opacity="0.95"/>
<rect x="793.1" y="155.02" width="179.8" height="1.038" fill="#000000" fill-opacity="0.95"/>
<rect x="793.1" y="157.10" width="179.8" height="1.038" fill="#000000" fill-opacity="0.95"/>
<rect x="793.1" y="159.18" width="179.8" height="1.038" fill="#ff7f0e" fill-opacity="0.95"/>
<rect x="793.1" y="161.25" width="179.8" height="1.038" fill="#000000" fill-opacity="0.95"/>
<rect x="793.1" y="163.33" width="179.8" height="1.038" fill="#000000" fill-opacity="0.95"/>
<rect x="793.1" y="165.41" width="179.8" height="1.038" fill="#ff7f0e" fill-opacity="0.95"/>
<rect x="793.1" y="167.48" width="179.8" height="1.038" fill="#000000" fill-opacity="0.95"/>
<rect x="793.1" y="169.56" width="179.8" height="1.038" fill="#000000" fill-opacity="0.95"/>
<rect x="793.1" y="171.63" width="179.8" height="1.038" fill="#000000" fill-opacity="0.95"/>
<rect x="793.1" y="173.71" width="179.8" height="1.038" fill="#000000" fill-opacity="0.95"/>
<rect x="793.1" y="175.79" width="179.8" height="1.038" fill="#000000" fill-opacity="0.95"/>
<rect x="793.1" y="177.86" width="179.8" height="1.038" fill="#ff7f0e" fill-opacity="0.95"/>
<rect x="793.1" y="179.94" width="179.8" height="1.038" fill="#ff7f0e" fill-opacity="0.95"/>
<rect x="793.1" y="182.01" width="179.8" height="1.038" fill="#000000" fill-opacity="0.95"/>
<rect x="793.1" y="184.09" width="179.8" height="1.038" fill="#ff7f0e" fill-opacity="0.95"/>
<rect x="793.1" y="186.17" width="179.8" height="1.038" fill="#ff7f0e" fill-opacity="0.95"/>
<rect x="793.1" y="188.24" width="179.8" height="1.038" fill="#000000" fill-opacity="0.95"/>
<rect x="793.1" y="190.32" width="179.8" height="1.038" fill="#000000" fill-opacity="0.95"/>
<rect x="793.1" y="192.40" width="179.8" height="1.038" fill="#000000" fill-opacity="0.95"/>
<rect x="793.1" y="194.47" width="179.8" height="1.038" fill="#2ca02c" fill-opacity="0.95"/>
<rect x="793.1" y="196.55" width="179.8" height="1.038" fill="#2ca02c" fill-opacity="0.95"/>
<rect x="793.1" y="198.62" width="179.8" height="1.038" fill="#000000" fill-opacity="0.95"/>
<rect x="793.1" y="200.70" width="179.8" height="1.038" fill="#2ca02c" fill-opacity="0.95"/>
<rect x="793.1" y="202.78" width="179.8" height="1.038" fill="#000000" fill-opacity="0.95"/>
<rect x="793.1" y="204.85" width="179.8" height="1.038" fill="#2ca02c" fill-opacity="0.95"/>
<rect x="793.1" y="206.93" width="179.8" height="1.038" fill="#2ca02c" fill-opacity="0.95"/>
<rect x="793.1" y="209.01" width="179.8" height="1.038" fill="#000000" fill-opacity="0.95"/>
<rect x="793.1" y="211.08" width="179.8" height="1.038" fill="#000000" fill-opacity="0.95"/>
<rect x="793.1" y="213.16" width="179.8" height="1.038" fill="#000000" fill-opacity="0.95"/>
<rect x="793.1" y="215.23" width="179.8" height="1.038" fill="#2ca02c" fill-opacity="0.95"/>
<rect x="793.1" y="217.31" width="179.8" height="1.038" fill="#2ca02c" fill-opacity="0.95"/>
<rect x="793.1" y="219.39" width="179.8" height="1.038" fill="#000000" fill-opacity="0.95"/>
<rect x="793.1" y="221.46" width="179.8" height="1.038" fill="#000000" fill-opacity="0.95"/>
<rect x="793.1" y="223.54" width="179.8" height="1.038" fill="#000000" fill-opacity="0.95"/>
<rect x="793.1" y="225.62" width="179.8" height="1.038" fill="#2ca02c" fill-opacity="0.95"/>
<rect x="793.1" y="227.69" width="179.8" height="1.038" fill="#000000" fill-opacity="0.95"/>
<rect x="793.1" y="229.77" width="179.8" height="1.038" fill="#000000" fill-opacity="0.95"/>
<rect x="793.1" y="231.84" width="179.8" height="1.038" fill="#000000" fill-opacity="0.95"/>
<rect x="793.1" y="233.92" width="179.8" height="1.038" fill="#000000" fill-opacity="0.95"/>
<rect x="793.1" y="236.00" width="179.8" height="1.038" fill="#000000" fill-opacity="0.95"/>
<rect x="793.1" y="238.07" width="179.8" height="1.038" fill="#000000" fill-opacity="0.95"/>
<rect x="793.1" y="240.15" width="179.8" height="1.038" fill="#2ca02c" fill-opacity="0.95"/>
<rect x="793.1" y="242.22" width="179.8" height="1.038" fill="#000000" fill-opacity="0.95"/>
<rect x="793.1" y="244.30" width="179.8" height="1.038" fill="#000000" fill-opacity="0.95"/>
<rect x="793.1" y="246.38" width="179.8" height="1.038" fill="#2ca02c" fill-opacity="0.95"/>
<rect x="793.1" y="248.45" width="179.8" height="1.038" fill="#2ca02c" fill-opacity="0.95"/>
<rect x="793.1" y="250.53" width="179.8" height="1.038" fill="#000000" fill-opacity="0.95"/>
<rect x="793.1" y="252.61" width="179.8" height="1.038" fill="#2ca02c" fill-opacity="0.95"/>
<rect x="793.1" y="254.68" width="179.8" height="1.038" fill="#000000" fill-opacity="0.95"/>
<rect x="793.1" y="256.76" width="179.8" height="1.038" fill="#2ca02c" fill-opacity="0.95"/>
<rect x="793.1" y="258.83" width="179.8" height="1.038" fill="#000000" fill-opacity="0.95"/>
<rect x="793.1" y="260.91" width="179.8" height="1.038" fill="#000000" fill-opacity="0.95"/>
<rect x="793.1" y="262.99" width="179.8" height="1.038" fill="#000000" fill-opacity="0.95"/>
<rect x="793.1" y="265.06" width="179.8" height="1.038" fill="#000000" fill-opacity="0.95"/>
<rect x="793.1" y="267.14" width="179.8" height="1.038" fill="#000000" fill-opacity="0.95"/>
<rect x="793.1" y="269.22" width="179.8" height="1.038" fill="#000000" fill-opacity="0.95"/>
<rect x="793.1" y="271.29" width="179.8" height="1.038" fill="#000000" fill-opacity="0.95"/>
<rect x="793.1" y="273.37" width="179.8" height="1.038" fill="#000000" fill-opacity="0.95"/>
<rect x="793.1" y="275.44" width="179.8" height="1.038" fill="#000000" fill-opacity="0.95"/>
<rect x="793.1" y="277.52" width="179.8" height="1.038" fill="#000000" fill-opacity="0.95"/>
<rect x="793.1" y="279.60" width="179.8" height="1.038" fill="#000000" fill-opacity="0.95"/>
<rect x="793.1" y="281.67" width="179.8" height="1.038" fill="#000000" fill-opacity="0.95"/>
<rect x="793.1" y="283.75" width="179.8" height="1.038" fill="#000000" fill-opacity="0.95"/>
<rect x="793.1" y="285.82" width="179.8" height="1.038" fill="#000000" fill-opacity="0.95"/>
<rect x="793.1" y="287.90" width="179.8" height="1.038" fill="#000000" fill-opacity="0.95"/>
<rect x="793.1" y="289.98" width="179.8" height="1.038" fill="#000000" fill-opacity="0.95"/>
<rect x="793.1" y="292.05" width="179.8" height="1.038" fill="#000000" fill-opacity="0.95"/>
<rect x="793.1" y="294.13" width="179.8" height="1.038" fill="#2ca02c" fill-opacity="0.95"/>
<rect x="793.1" y="296.21" width="179.8" height="1.038" fill="#2ca02c" fill-opacity="0.95"/>
<rect x="793.1" y="298.28" width="179.8" height="1.038" fill="#2ca02c" fill-opacity="0.95"/>
<rect x="793.1" y="300.36" width="179.8" height="1.038" fill="#2ca02c" fill-opacity="0.95"/>
<rect x="793.1" y="302.43" width="179.8" height="1.038" fill="#2ca02c" fill-opacity="0.95"/>
<rect x="793.1" y="304.51" width="179.8" height="1.038" fill="#2ca02c" fill-opacity="0.95"/>
<rect x="793.1" y="306.59" width="179.8" height="1.038" fill="#2ca02c" fill-opacity="0.95"/>
<rect x="793.1" y="308.66" width="179.8" height="1.038" fill="#000000" fill-opacity="0.95"/>
<rect x="793.1" y="310.74" width="179.8" height="1.038" fill="#000000" fill-opacity="0.95"/>
<rect x="793.1" y="312.82" width="179.8" height="1.038" fill="#000000" fill-opacity="0.95"/>
<rect x="793.1" y="314.89" width="179.8" height="1.038" fill="#2ca02c" fill-opacity="0.95"/>
<rect x="793.1" y="316.97" width="179.8" height="1.038" fill="#d62728" fill-opacity="0.95"/>
<rect x="793.1" y="319.04" width="179.8" height="1.038" fill="#d62728" fill-opacity="0.95"/>
<rect x="793.1" y="321.12" width="179.8" height="1.038" fill="#000000" fill-opacity="0.95"/>
<rect x="793.1" y="323.20" width="179.8" height="1.038" fill="#000000" fill-opacity="0.95"/>
<rect x="793.1" y="325.27" width="179.8" height="1.038" fill="#000000" fill-opacity="0.95"/>
<rect x="793.1" y="327.35" width="179.8" height="1.038" fill="#000000" fill-opacity="0.95"/>
<rect x="793.1" y="329.43" width="179.8" height="1.038" fill="#d62728" fill-opacity="0.95"/>
<rect x="793.1" y="331.50" width="179.8" height="1.038" fill="#000000" fill-opacity="0.95"/>
<rect x="793.1" y="333.58" width="179.8" height="1.038" fill="#000000" fill-opacity="0.95"/>
<rect x="793.1" y="335.65" width="179.8" height="1.038" fill="#000000" fill-opacity="0.95"/>
<rect x="793.1" y="337.73" width="179.8" height="1.038" fill="#d62728" fill-opacity="0.95"/>
<rect x="793.1" y="339.81" width="179.8" height="1.038" fill="#d62728" fill-opacity="0.95"/>
<rect x="793.1" y="341.88" width="179.8" height="1.038" fill="#d62728" fill-opacity="0.95"/>
<rect x="793.1" y="343.96" width="179.8" height="1.038" fill="#d62728" fill-opacity="0.95"/>
<rect x="793.1" y="346.03" width="179.8" height="1.038" fill="#000000" fill-opacity="0.95"/>
<rect x="793.1" y="348.11" width="179.8" height="1.038" fill="#000000" fill-opacity="0.95"/>
<rect x="793.1" y="350.19" width="179.8" height="1.038" fill="#000000" fill-opacity="0.95"/>
<rect x="793.1" y="352.26" width="179.8" height="1.038" fill="#d62728" fill-opacity="0.95"/>
<rect x="793.1" y="354.34" width="179.8" height="1.038" fill="#d62728" fill-opacity="0.95"/>
<rect x="793.1" y="356.42" width="179.8" height="1.038" fill="#d62728" fill-opacity="0.95"/>
<rect x="793.1" y="358.49" width="179.8" height="1.038" fill="#000000" fill-opacity="0.95"/>
<rect x="793.1" y="360.57" width="179.8" height="1.038" fill="#000000" fill-opacity="0.95"/>
<rect x="793.1" y="362.64" width="179.8" height="1.038" fill="#000000" fill-opacity="0.95"/>
<rect x="793.1" y="364.72" width="179.8" height="1.038" fill="#d62728" fill-opacity="0.95"/>
<rect x="793.1" y="366.80" width="179.8" height="1.038" fill="#000000" fill-opacity="0.95"/>
<rect x="793.1" y="368.87" width="179.8" height="1.038" fill="#000000" fill-opacity="0.95"/>
<rect x="793.1" y="370.95" width="179.8" height="1.038" fill="#d62728" fill-opacity="0.95"/>
<rect x="793.1" y="373.03" width="179.8" height="1.038" fill="#d62728" fill-opacity="0.95"/>
<rect x="793.1" y="375.10" width="179.8" height="1.038" fill="#d62728" fill-opacity="0.95"/>
<rect x="793.1" y="377.18" width="179.8" height="1.038" fill="#d62728" fill-opacity="0.95"/>
<rect x="793.1" y="379.25" width="179.8" height="1.038" fill="#d62728" fill-opacity="0.95"/>
<rect x="793.1" y="381.33" width="179.8" height="1.038" fill="#000000" fill-opacity="0.95"/>
<rect x="793.1" y="383.41" width="179.8" height="1.038" fill="#000000" fill-opacity="0.95"/>
<rect x="793.1" y="385.48" width="179.8" height="1.038" fill="#d62728" fill-opacity="0.95"/>
<rect x="793.1" y="387.56" width="179.8" height="1.038" fill="#000000" fill-opacity="0.95"/>
<rect x="793.1" y="389.63" width="179.8" height="1.038" fill="#000000" fill-opacity="0.95"/>
<rect x="793.1" y="391.71" width="179.8" height="1.038" fill="#000000" fill-opacity="0.95"/>
<rect x="793.1" y="393.79" width="179.8" height="1.038" fill="#000000" fill-opacity="0.95"/>
<rect x="793.1" y="395.86" width="179.8" height="1.038" fill="#000000" fill-opacity="0.95"/>
<rect x="793.1" y="397.94" width="179.8" height="1.038" fill="#000000" fill-opacity="0.95"/>
<rect x="793.1" y="400.02" width="179.8" height="1.038" fill="#000000" fill-opacity="0.95"/>
<rect x="793.1" y="402.09" width="179.8" height="1.038" fill="#000000" fill-opacity="0.95"/>
<rect x="793.1" y="404.17" width="179.8" height="1.038" fill="#000000" fill-opacity="0.95"/>
<rect x="793.1" y="406.24" width="179.8" height="1.038" fill="#000000" fill-opacity="0.95"/>
<rect x="793.1" y="408.32" width="179.8" height="1.038" fill="#000000" fill-opacity="0.95"/>
<rect x="793.1" y="410.40" width="179.8" height="1.038" fill="#000000" fill-opacity="0.95"/>
<rect x="793.1" y="412.47" width="179.8" height="1.038" fill="#000000" fill-opacity="0.95"/>
<rect x="793.1" y="414.55" width="179.8" height="1.038" fill="#000000" fill-opacity="0.95"/>
<rect x="793.1" y="416.63" width="179.8" height="1.038" fill="#000000" fill-opacity="0.95"/>
<rect x="793.1" y="418.70" width="179.8" height="1.038" fill="#000000" fill-opacity="0.95"/>
<rect x="793.1" y="420.78" width="179.8" height="1.038" fill="#000000" fill-opacity="0.95"/>
<rect x="793.1" y="422.85" width="179.8" height="1.038" fill="#000000" fill-opacity="0.95"/>
<rect x="793.1" y="424.93" width="179.8" height="1.038" fill="#000000" fill-opacity="0.95"/>
<rect x="793.1" y="427.01" width="179.8" height="1.038" fill="#d62728" fill-opacity="0.95"/>
<rect x="793.1" y="429.08" width="179.8" height="1.038" fill="#000000" fill-opacity="0.95"/>
<rect x="793.1" y="431.16" width="179.8" height="1.038" fill="#000000" fill-opacity="0.95"/>
<rect x="793.1" y="433.24" width="179.8" height="1.038" fill="#2ca02c" fill-opacity="0.95"/>
<rect x="793.1" y="435.31" width="179.8" height="1.038" fill="#000000" fill-opacity="0.95"/>
<rect x="793.1" y="437.39" width="179.8" height="1.038" fill="#d62728" fill-opacity="0.95"/>
<rect x="793.1" y="439.46" width="179.8" height="1.038" fill="#000000" fill-opacity="0.95"/>
<rect x="793.1" y="441.54" width="179.8" height="1.038" fill="#000000" fill-opacity="0.95"/>
<rect x="793.1" y="443.62" width="179.8" height="1.038" fill="#000000" fill-opacity="0.95"/>
<rect x="793.1" y="445.69" width="179.8" height="1.038" fill="#000000" fill-opacity="0.95"/>
<rect x="793.1" y="447.77" width="179.8" height="1.038" fill="#000000" fill-opacity="0.95"/>
<rect x="793.1" y="449.84" width="179.8" height="1.038" fill="#d62728" fill-opacity="0.95"/>
<rect x="793.1" y="451.92" width="179.8" height="1.038" fill="#d62728" fill-opacity="0.95"/>
<rect x="793.1" y="454.00" width="179.8" height="1.038" fill="#d62728" fill-opacity="0.95"/>
<rect x="793.1" y="456.07" width="179.8" height="1.038" fill="#d62728" fill-opacity="0.95"/>
<rect x="793.1" y="458.15" width="179.8" height="1.038" fill="#9467bd" fill-opacity="0.95"/>
<rect x="793.1" y="460.23" width="179.8" height="1.038" fill="#000000" fill-opacity="0.95"/>
<rect x="793.1" y="462.30" width="179.8" height="1.038" fill="#000000" fill-opacity="0.95"/>
<rect x="793.1" y="464.38" width="179.8" height="1.038" fill="#000000" fill-opacity="0.95"/>
<rect x="793.1" y="466.45" width="179.8" height="1.038" fill="#9467bd" fill-opacity="0.95"/>
<rect x="793.1" y="468.53" width="179.8" height="1.038" fill="#9467bd" fill-opacity="0.95"/>
<rect x="793.1" y="470.61" width="179.8" height="1.038" fill="#000000" fill-opacity="0.95"/>
<rect x="793.1" y="472.68" width="179.8" height="1.038" fill="#000000" fill-opacity="0.95"/>
<rect x="793.1" y="474.76" width="179.8" height="1.038" fill="#9467bd" fill-opacity="0.95"/>
<rect x="793.1" y="476.84" width="179.8" height="1.038" fill="#000000" fill-opacity="0.95"/>
<rect x="793.1" y="478.91" width="179.8" height="1.038" fill="#9467bd" fill-opacity="0.95"/>
<rect x="793.1" y="480.99" width="179.8" height="1.038" fill="#000000" fill-opacity="0.95"/>
<rect x="793.1" y="483.06" width="179.8" height="1.038" fill="#000000" fill-opacity="0.95"/>
<rect x="793.1" y="485.14" width="179.8" height="1.038" fill="#9467bd" fill-opacity="0.95"/>
<rect x="793.1" y="487.22" width="179.8" height="1.038" fill="#9467bd" fill-opacity="0.95"/>
<rect x="793.1" y="489.29" width="179.8" height="1.038" fill="#9467bd" fill-opacity="0.95"/>
<rect x="793.1" y="491.37" width="179.8" height="1.038" fill="#9467bd" fill-opacity="0.95"/>
<rect x="793.1" y="493.44" width="179.8" height="1.038" fill="#9467bd" fill-opacity="0.95"/>
<rect x="793.1" y="495.52" width="179.8" height="1.038" fill="#9467bd" fill-opacity="0.95"/>
<rect x="793.1" y="497.60" width="179.8" height="1.038" fill="#9467bd" fill-opacity="0.95"/>
<rect x="793.1" y="499.67" width="179.8" height="1.038" fill="#9467bd" fill-opacity="0.95"/>
<rect x="793.1" y="501.75" width="179.8" height="1.038" fill="#9467bd" fill-opacity="0.95"/>
<rect x="793.1" y="503.83" width="179.8" height="1.038" fill="#9467bd" fill-opacity="0.95"/>
<rect x="793.1" y="505.90" width="179.8" height="1.038" fill="#000000" fill-opacity="0.95"/>
<rect x="793.1" y="507.98" width="179.8" height="1.038" fill="#000000" fill-opacity="0.95"/>
<rect x="793.1" y="510.05" width="179.8" height="1.038" fill="#000000" fill-opacity="0.95"/>
<rect x="793.1" y="512.13" width="179.8" height="1.038" fill="#000000" fill-opacity="0.95"/>
<rect x="793.1" y="514.21" width="179.8" height="1.038" fill="#9467bd" fill-opacity="0.95"/>
<rect x="793.1" y="516.28" width="179.8" height="1.038" fill="#000000" fill-opacity="0.95"/>
<rect x="793.1" y="518.36" width="179.8" height="1.038" fill="#000000" fill-opacity="0.95"/>
<rect x="793.1" y="520.44" width="179.8" height="1.038" fill="#000000" fill-opacity="0.95"/>
<rect x="793.1" y="522.51" width="179.8" height="1.038" fill="#000000" fill-opacity="0.95"/>
<rect x="793.1" y="524.59" width="179.8" height="1.038" fill="#000000" fill-opacity="0.95"/>
<rect x="793.1" y="526.66" width="179.8" height="1.038" fill="#9467bd" fill-opacity="0.95"/>
<rect x="793.1" y="528.74" width="179.8" height="1.038" fill="#9467bd" fill-opacity="0.95"/>
<rect x="793.1" y="530.82" width="179.8" height="1.038" fill="#000000" fill-opacity="0.95"/>
<rect x="793.1" y="532.89" width="179.8" height="1.038" fill="#9467bd" fill-opacity="0.95"/>
<rect x="793.1" y="534.97" width="179.8" height="1.038" fill="#000000" fill-opacity="0.95"/>
<rect x="793.1" y="537.05" width="179.8" height="1.038" fill="#000000" fill-opacity="0.95"/>
<rect x="793.1" y="539.12" width="179.8" height="1.038" fill="#9467bd" fill-opacity="0.95"/>
<rect x="793.1" y="541.20" width="179.8" height="1.038" fill="#000000" fill-opacity="0.95"/>
<rect x="793.1" y="543.27" width="179.8" height="1.038" fill="#000000" fill-opacity="0.95"/>
<rect x="793.1" y="545.35" width="179.8" height="1.038" fill="#000000" fill-opacity="0.95"/>
<rect x="793.1" y="547.43" width="179.8" height="1.038" fill="#000000" fill-opacity="0.95"/>
<rect x="793.1" y="549.50" width="179.8" height="1.038" fill="#000000" fill-opacity="0.95"/>
<rect x="793.1" y="551.58" width="179.8" height="1.038" fill="#000000" fill-opacity="0.95"/>
<rect x="793.1" y="553.65" width="179.8" height="1.038" fill="#000000" fill-opacity="0.95"/>
<rect x="793.1" y="555.73" width="179.8" height="1.038" fill="#000000" fill-opacity="0.95"/>
<rect x="793.1" y="557.81" width="179.8" height="1.038" fill="#000000" fill-opacity="0.95"/>
<rect x="793.1" y="559.88" width="179.8" height="1.038" fill="#000000" fill-opacity="0.95"/>
<rect x="793.1" y="561.96" width="179.8" height="1.038" fill="#000000" fill-opacity="0.95"/>
<rect x="793.1" y="564.04" width="179.8" height="1.038" fill="#000000" fill-opacity="0.95"/>
<rect x="793.1" y="566.11" width="179.8" height="1.038" fill="#000000" fill-opacity="0.95"/>
<rect x="793.1" y="568.19" width="179.8" height="1.038" fill="#9467bd" fill-opacity="0.95"/>
<rect x="793.1" y="570.26" width="179.8" height="1.038" fill="#9467bd" fill-opacity="0.95"/>
<rect x="793.1" y="572.34" width="179.8" height="1.038" fill="#000000" fill-opacity="0.95"/>
<rect x="793.1" y="574.42" width="179.8" height="1.038" fill="#9467bd" fill-opacity="0.95"/>
<rect x="793.1" y="576.49" width="179.8" height="1.038" fill="#000000" fill-opacity="0.95"/>
<rect x="793.1" y="578.57" width="179.8" height="1.038" fill="#000000" fill-opacity="0.95"/>
<rect x="793.1" y="580.65" width="179.8" height="1.038" fill="#000000" fill-opacity="0.95"/>
<rect x="793.1" y="582.72" width="179.8" height="1.038" fill="#000000" fill-opacity="0.95"/>
<rect x="793.1" y="584.80" width="179.8" height="1.038" fill="#000000" fill-opacity="0.95"/>
<rect x="793.1" y="586.87" width="179.8" height="1.038" fill="#000000" fill-opacity="0.95"/>
<rect x="793.1" y="588.95" width="179.8" height="1.038" fill="#000000" fill-opacity="0.95"/>
<rect x="793.1" y="591.03" width="179.8" height="1.038" fill="#000000" fill-opacity="0.95"/>
<rect x="793.1" y="593.10" width="179.8" height="1.038" fill="#000000" fill-opacity="0.95"/>
<rect x="793.1" y="595.18" width="179.8" height="1.038" fill="#9467bd" fill-opacity="0.95"/>
<rect x="793.1" y="597.25" width="179.8" height="1.038" fill="#000000" fill-opacity="0.95"/>
<rect x="793.1" y="599.33" width="179.8" height="1.038" fill="#000000" fill-opacity="0.95"/>
<rect x="793.1" y="601.41" width="179.8" height="1.038" fill="#000000" fill-opacity="0.95"/>
<rect x="793.1" y="603.48" width="179.8" height="1.038" fill="#9467bd" fill-opacity="0.95"/>
<rect x="793.1" y="605.56" width="179.8" height="1.038" fill="#000000" fill-opacity="0.95"/>
<rect x="793.1" y="607.64" width="179.8" height="1.038" fill="#8c564b" fill-opacity="0.95"/>
<rect x="793.1" y="609.71" width="179.8" height="1.038" fill="#8c564b" fill-opacity="0.95"/>
<rect x="793.1" y="611.79" width="179.8" height="1.038" fill="#8c564b" fill-opacity="0.95"/>
<rect x="793.1" y="613.86" width="179.8" height="1.038" fill="#000000" fill-opacity="0.95"/>
<rect x="793.1" y="615.94" width="179.8" height="1.038" fill="#000000" fill-opacity="0.95"/>
<rect x="793.1" y="618.02" width="179.8" height="1.038" fill="#000000" fill-opacity="0.95"/>
<rect x="793.1" y="620.09" width="179.8" height="1.038" fill="#000000" fill-opacity="0.95"/>
<rect x="793.1" y="622.17" width="179.8" height="1.038" fill="#8c564b" fill-opacity="0.95"/>
<rect x="793.1" y="624.25" width="179.8" height="1.038" fill="#000000" fill-opacity="0.95"/>
<rect x="793.1" y="626.32" width="179.8" height="1.038" fill="#000000" fill-opacity="0.95"/>
<rect x="793.1" y="628.40" width="179.8" height="1.038" fill="#000000" fill-opacity="0.95"/>
<rect x="793.1" y="630.47" width="179.8" height="1.038" fill="#8c564b" fill-opacity="0.95"/>
<rect x="793.1" y="632.55" width="179.8" height="1.038" fill="#8c564b" fill-opacity="0.95"/>
<rect x="793.1" y="634.63" width="179.8" height="1.038" fill="#8c564b" fill-opacity="0.95"/>
<rect x="793.1" y="636.70" width="179.8" height="1.038" fill="#000000" fill-opacity="0.95"/>
<rect x="793.1" y="638.78" width="179.8" height="1.038" fill="#8c564b" fill-opacity="0.95"/>
<rect x="793.1" y="640.86" width="179.8" height="1.038" fill="#000000" fill-opacity="0.95"/>
<rect x="793.1" y="642.93" width="179.8" height="1.038" fill="#000000" fill-opacity="0.95"/>
<rect x="793.1" y="645.01" width="179.8" height="1.038" fill="#8c564b" fill-opacity="0.95"/>
<rect x="793.1" y="647.08" width="179.8" height="1.038" fill="#8c564b" fill-opacity="0.95"/>
<rect x="793.1" y="649.16" width="179.8" height="1.038" fill="#8c564b" fill-opacity="0.95"/>
<rect x="793.1" y="651.24" width="179.8" height="1.038" fill="#8c564b" fill-opacity="0.95"/>
<rect x="793.1" y="653.31" width="179.8" height="1.038" fill="#8c564b" fill-opacity="0.95"/>
<rect x="793.1" y="655.39" width="179.8" height="1.038" fill="#8c564b" fill-opacity="0.95"/>
<rect x="343.7" y="330.98" width="180.0" height="1.9" fill="#dadede"/>
<rect x="793.1" y="656.95" width="179.8" height="1.9" fill="#dadede"/>
<rect x="78.75" y="428.75" width="73.0" height="8.9" fill="#fff" stroke="#000" stroke-width="2.1"/>
<rect x="79.1" y="477.3" width="72.3" height="8" fill="#000"/>
</svg>
<div class="t" id="l0" style="left:42.81px;top:64.45px;font-size:28.9px;font-weight:bold;color:#1f77b4;-webkit-text-stroke:0.3px #1f77b4;transform:scaleX(1.2511)">Introduction</div>
<div class="t" id="l1" style="left:62.02px;top:102.45px;font-size:28.9px;font-weight:bold;color:#ff7f0e;-webkit-text-stroke:0.3px #ff7f0e;transform:scaleX(1.1825)">Phys. Basis</div>
<div class="t" id="l2" style="left:101.14px;top:146.25px;font-size:28.9px;font-weight:bold;color:#2ca02c;-webkit-text-stroke:0.3px #2ca02c;transform:scaleX(1.1983)">Evidence</div>
<div class="t" id="l3" style="left:8.30px;top:198.75px;font-size:28.9px;font-weight:bold;color:#d62728;-webkit-text-stroke:0.3px #d62728;transform:scaleX(1.2275)">Tipping Points</div>
<div class="t" id="l4" style="left:118.84px;top:255.65px;font-size:28.9px;font-weight:bold;color:#9467bd;-webkit-text-stroke:0.3px #9467bd;transform:scaleX(1.2364)">Impacts</div>
<div class="t" id="l5" style="left:69.21px;top:299.45px;font-size:28.9px;font-weight:bold;color:#8c564b;-webkit-text-stroke:0.3px #8c564b;transform:scaleX(1.1758)">Conclusion</div>
<div class="t" id="td" style="left:380.16px;top:2.78px;font-size:44.0px;font-weight:normal;color:#000;transform:scaleX(1.1114)">Draft</div>
<div class="t" id="tf" style="left:834.00px;top:2.78px;font-size:44.0px;font-weight:normal;color:#000;transform:scaleX(1.0140)">Final</div>
<div class="t" id="g1" style="left:172.82px;top:417.19px;font-size:33.6px;font-weight:normal;color:#000;transform:scaleX(1.1005)">Deleted Sentence (Draft)</div>
<div class="t" id="g2" style="left:173.75px;top:462.79px;font-size:33.6px;font-weight:normal;color:#000;transform:scaleX(1.0704)">Added Sentence (Final)</div>
</div></body></html>
